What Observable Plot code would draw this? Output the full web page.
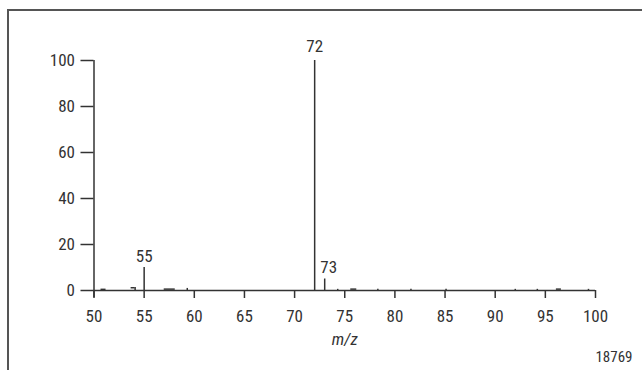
<!DOCTYPE html>
<html>
<head>
<meta charset="utf-8">
<script src="https://cdn.jsdelivr.net/npm/d3@7"></script>
<script src="https://cdn.jsdelivr.net/npm/@observablehq/plot@0.6"></script>
<style>
  html, body { margin: 0; padding: 0; background: #fff; }
  #wrap { position: relative; width: 642px; height: 370px; overflow: hidden; }
  #border { position: absolute; left: 7px; top: 9px; width: 700px; height: 400px;
            border-left: 2px solid #555; border-top: 2px solid #555; pointer-events: none; }
  svg { display: block; }
  svg text { font-stretch: 75%; font-weight: 400; }
</style>
</head>
<body>
<div id="wrap"><div id="border"></div></div>
<script>
// Major peaks (m/z, relative intensity %)
const peakMz = [55, 72, 73];
const peakIntensity = [10, 100, 5];
const peakLabels = ["55", "72", "73"];

// Tiny peaks near the baseline
const minorMz = [54.1, 59.3, 74.3, 78.3, 81.6, 85.1, 92.0, 94.2, 99.3];
const minorIntensity = [1.3, 0.9, 0.5, 0.5, 0.5, 0.5, 0.5, 0.5, 0.5];

// Small low clusters (start m/z, end m/z, intensity)
const clusterStart = [50.7, 53.7, 57.0, 75.6, 96.1];
const clusterEnd = [51.2, 54.1, 58.1, 76.2, 96.6];
const clusterIntensity = [0.5, 1.2, 0.6, 0.6, 0.6];

const xTicks = [50, 55, 60, 65, 70, 75, 80, 85, 90, 95, 100];
const yTicks = [0, 20, 40, 60, 80, 100];
const xLabel = "m/z";
const figureId = "18769";

const peaks = peakMz.map((m, i) => ({mz: m, value: peakIntensity[i], label: peakLabels[i]}));
const minor = minorMz.map((m, i) => ({mz: m, value: minorIntensity[i]}));
const clusters = clusterStart.map((s, i) => ({x1: s, x2: clusterEnd[i], y: clusterIntensity[i]}));

const ink = "#333";
const font = "'Roboto Condensed', Roboto, 'Liberation Sans', sans-serif";

const chart = Plot.plot({
  width: 642,
  height: 370,
  marginLeft: 93.5,
  marginRight: 47,
  marginTop: 60,
  marginBottom: 80,
  style: {fontFamily: font, fontSize: "17px", color: ink, background: "transparent", overflow: "visible"},
  x: {domain: [50, 100], label: null},
  y: {domain: [0, 100], label: null},
  marks: [
    Plot.axisX({ticks: xTicks, tickSize: 8, tickPadding: 11, stroke: ink, strokeWidth: 1.5, fill: ink, label: null, fontSize: 17}),
    Plot.axisY({ticks: yTicks, tickSize: 13, tickPadding: 6, stroke: ink, strokeWidth: 1.5, fill: ink, label: null, fontSize: 17}),
    Plot.ruleY([0], {x1: 50, x2: 100, stroke: ink, strokeWidth: 1.5}),
    Plot.ruleX([50], {y1: -3, y2: 100, stroke: ink, strokeWidth: 1.5}),
    Plot.ruleY(clusters, {x1: "x1", x2: "x2", y: "y", stroke: ink, strokeWidth: 1.5}),
    Plot.ruleX(minor, {x: "mz", y1: 0, y2: "value", stroke: ink, strokeWidth: 1.5}),
    Plot.ruleX(peaks, {x: "mz", y1: 0, y2: "value", stroke: ink, strokeWidth: 1.5}),
    Plot.text(peaks.filter(d => d.label === "72"), {x: "mz", y: "value", text: "label", dy: -14, fill: ink, fontSize: 17}),
    Plot.text(peaks.filter(d => d.label === "55"), {x: "mz", y: "value", text: "label", dy: -11, fill: ink, fontSize: 17}),
    Plot.text(peaks.filter(d => d.label === "73"), {x: "mz", y: "value", text: "label", dx: 4, dy: -11, fill: ink, fontSize: 17}),
    Plot.text([xLabel], {frameAnchor: "bottom", dy: 54, fontStyle: "italic", fill: ink, fontSize: 17}),
    Plot.text([figureId], {frameAnchor: "bottom-right", dx: 37, dy: 71, fill: ink, fontSize: 15})
  ]
});
document.getElementById("wrap").prepend(chart);
</script>
</body>
</html>
